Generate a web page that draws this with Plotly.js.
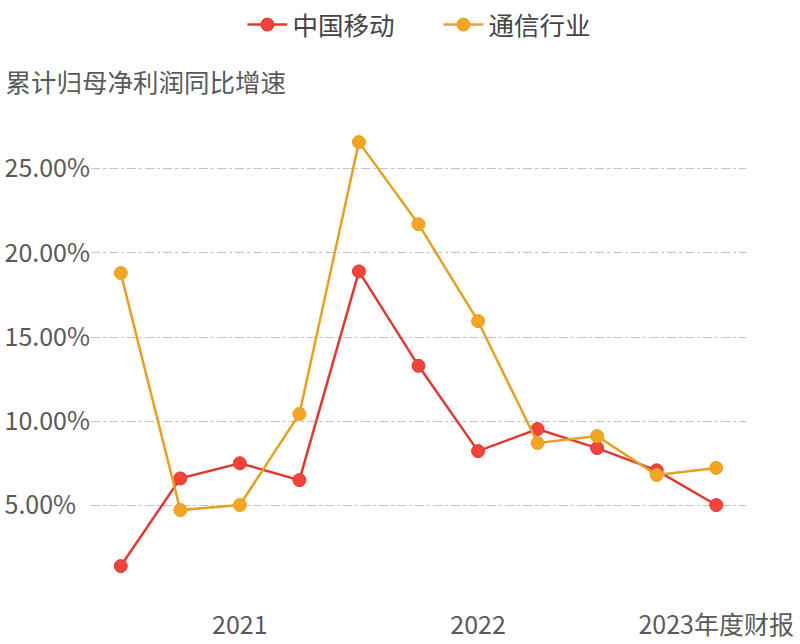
<!DOCTYPE html>
<html>
<head>
<meta charset="utf-8">
<script src="https://cdn.plot.ly/plotly-3.0.1.min.js"></script>
<style>html,body{margin:0;padding:0;background:#fff;}#chart{width:800px;height:644px;}</style>
</head>
<body>
<div id="chart"></div>
<script>
const periods = ["2020Q3","2020年度","2021Q1","2021H1","2021Q3","2021年度","2022Q1","2022H1","2022Q3","2022年度","2023年度财报"];
const xTickVals = ["2021Q1","2022Q1","2023年度财报"];
const xTickText = ["2021","2022","2023年度财报"];
const chinaMobile = [1.42, 6.62, 7.52, 6.52, 18.9, 13.3, 8.24, 9.55, 8.42, 7.1, 5.04];
const telecomIndustry = [18.8, 4.74, 5.04, 10.44, 26.57, 21.7, 15.95, 8.72, 9.13, 6.82, 7.24];
const yTickVals = [5, 10, 15, 20, 25];
const yTickText = ["5.00%\u2007", "10.00%", "15.00%", "20.00%", "25.00%"];
const seriesNames = ["中国移动", "通信行业"];
const yTitle = "累计归母净利润同比增速";

const font = '"Noto Sans CJK SC", "Noto Sans", sans-serif';
const traces = [
  {x: periods, y: chinaMobile, name: seriesNames[0], type: 'scatter', mode: 'lines+markers',
   line: {color: '#e2382f', width: 2.5},
   marker: {color: '#f5433a', size: 13, line: {color: '#e2382f', width: 1}}},
  {x: periods, y: telecomIndustry, name: seriesNames[1], type: 'scatter', mode: 'lines+markers',
   line: {color: '#e9a020', width: 2.5},
   marker: {color: '#f4a622', size: 13, line: {color: '#e9a020', width: 1}}}
];
const layout = {
  width: 800, height: 644,
  paper_bgcolor: '#ffffff', plot_bgcolor: '#ffffff',
  font: {family: font, size: 25, color: '#5a5a5a'},
  margin: {l: 91, r: 54, t: 118, b: 54},
  title: {text: yTitle, x: 0.007, xanchor: 'left', xref: 'container', y: 1 - 83/644, yanchor: 'middle', yref: 'container',
          font: {family: font, size: 25.5, color: '#5a5a5a'}},
  showlegend: true,
  legend: {orientation: 'h', x: 0.303, xanchor: 'left', y: 1 - 25/644, yanchor: 'middle', yref: 'container', xref: 'container',
           font: {family: font, size: 25.5, color: '#444'}, itemwidth: 40, entrywidth: 141, entrywidthmode: 'pixels'},
  xaxis: {type: 'category', categoryorder: 'array', categoryarray: periods, range: [-0.5, 10.5],
          tickvals: xTickVals, ticktext: xTickText, showgrid: false, zeroline: false, showline: false,
          ticks: '', ticklabelstandoff: 18, tickfont: {family: font, size: 25, color: '#5a5a5a'}},
  yaxis: {range: [0, 28], tickvals: yTickVals, ticktext: yTickText, showgrid: true, gridcolor: '#c4c4c4',
          griddash: 'dashdot', gridwidth: 1, zeroline: false, showline: false, ticks: '',
          ticklabelstandoff: 0, tickfont: {family: font, size: 25, color: '#5a5a5a'}},
  hovermode: false
};
Plotly.newPlot('chart', traces, layout, {displayModeBar: false, staticPlot: true});
</script>
</body>
</html>
